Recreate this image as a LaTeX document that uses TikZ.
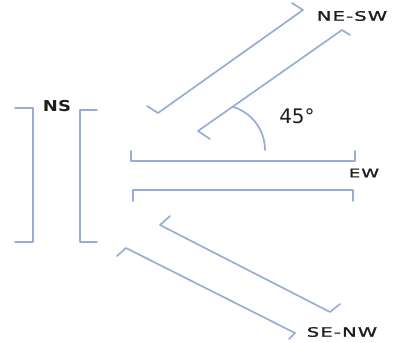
\documentclass[tikz,border=0pt]{standalone}
\usepackage{fontspec}
\usepackage{graphicx}
\newfontfamily\lblfont[LetterSpace=6,FakeBold=1.2]{DejaVu Sans}
\newfontfamily\nsfont{DejaVu Sans}
\newfontfamily\anglefont{DejaVu Sans}
\newcommand{\wide}[2][1.5]{\scalebox{#1}[1]{#2}}
\definecolor{brk}{RGB}{150,174,212}
\definecolor{ink}{RGB}{30,30,30}
\tikzset{
  brk/.style={draw=brk, line width=1.7pt, line join=round, line cap=round},
  lbl/.style={text=ink, inner sep=0pt, font=\lblfont\fontsize{13}{15}\selectfont},
}
\begin{document}
\begin{tikzpicture}[x=1pt,y=-1pt]
\useasboundingbox (0,0) rectangle (394,343);
% NS brackets
\draw[brk] (15,108) -- (33,108) -- (33,242) -- (15,242);
\draw[brk] (97,110) -- (80,110) -- (80,242) -- (97,242);
% EW brackets
\draw[brk] (131,151) -- (131,161) -- (355,161) -- (355,151);
\draw[brk] (133,201) -- (133,190) -- (353,190) -- (353,201);
% NE-SW brackets
\draw[brk] (147,106) -- (158,113) -- (303,10) -- (292,3);
\draw[brk] (210,139) -- (198,131) -- (342,30) -- (350,35);
% SE-NW brackets
\draw[brk] (170,216) -- (160,225) -- (330,312) -- (340,304);
\draw[brk] (117,256) -- (126,248) -- (295,333) -- (289,339);
% angle arc
\draw[brk] (265,150) arc[start angle=0, end angle=-73, radius=45];
% labels
\node[text=ink, inner sep=0pt, font=\nsfont\bfseries\fontsize{15}{17}\selectfont] (ns) at (57,106) {\wide[1.2]{NS}};
\node[lbl, font=\lblfont\fontsize{12}{14}\selectfont] (ew) at (364,173) {\wide{EW}};
\node[lbl] (nesw) at (352,16) {\wide{NE-SW}};
\node[lbl] (senw) at (342,332) {\wide{SE-NW}};
\node[text=ink, inner sep=0pt, font=\anglefont\fontsize{20}{22}\selectfont] (ang) at (297,116) {45°};
\end{tikzpicture}
\end{document}
